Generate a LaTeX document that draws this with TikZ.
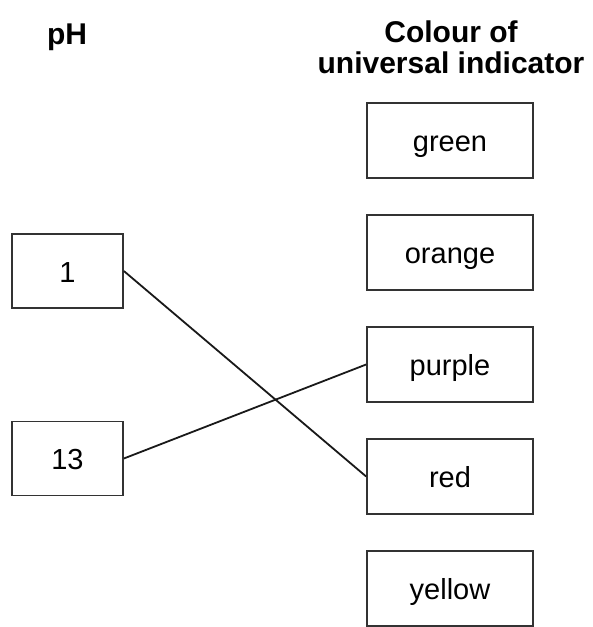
\documentclass[tikz,border=0pt]{standalone}
\usepackage{fontspec}
\setmainfont{Liberation Sans}
\begin{document}
\begin{tikzpicture}[x=1pt,y=-1pt,
  box/.style={draw=black!80, line width=1.7pt, inner sep=0pt,
    font=\fontsize{29}{33}\selectfont, text height=22pt, text depth=0pt},
  phbox/.style={box, minimum width=111pt, minimum height=74pt},
  colbox/.style={box, minimum width=166pt, minimum height=75pt},
  head/.style={font=\bfseries\fontsize{30}{31}\selectfont, anchor=base, inner sep=0pt},
  link/.style={line width=1.8pt, black!90}]
\useasboundingbox (0,0) rectangle (593,627);

% column headings
\node[head] (phhead) at (67,44) {pH};
\node[head] (colhead1) at (451,42) {Colour of};
\node[head] (colhead2) at (451,73) {universal indicator};

% pH values
\node[phbox] (one) at (67.5,271) {1};
\node[phbox] (thirteen) at (67.5,458.5) {13};

% indicator colours
\node[colbox] (green) at (450,140.5) {green};
\node[colbox] (orange) at (450,252.5) {orange};
\node[colbox] (purple) at (450,364.5) {purple};
\node[colbox] (red) at (450,476.5) {red};
\node[colbox] (yellow) at (450,588.5) {yellow};

% matching lines
\draw[link] (one.east) -- (red.west);
\draw[link] (thirteen.east) -- (purple.west);
\end{tikzpicture}
\end{document}
